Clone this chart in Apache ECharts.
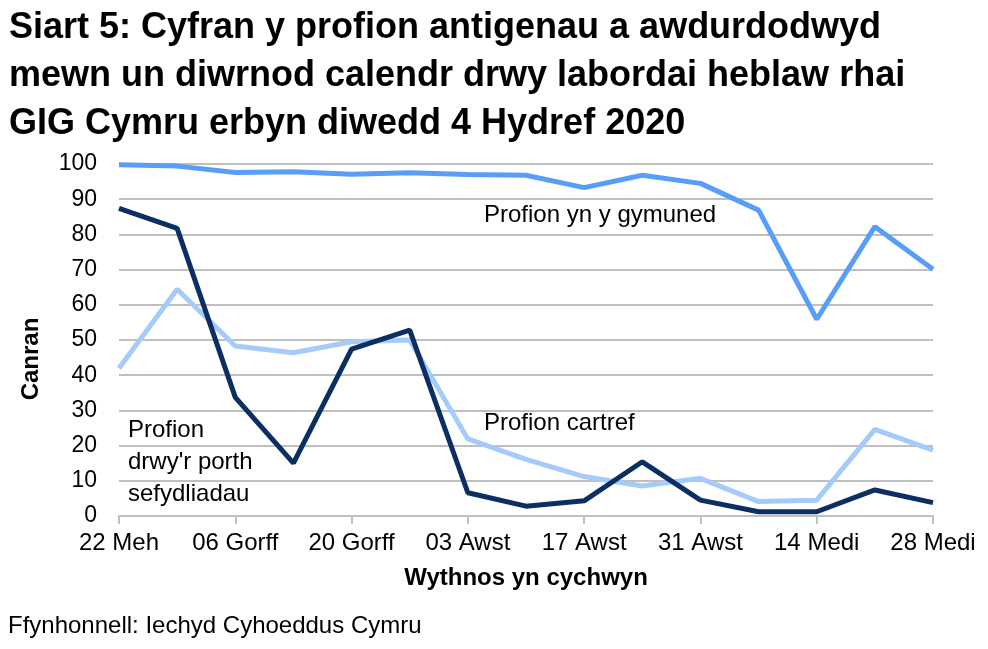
<!DOCTYPE html>
<html><head><meta charset="utf-8">
<script src="https://cdn.jsdelivr.net/npm/echarts@6/dist/echarts.min.js"></script>
<style>html,body{margin:0;padding:0;background:#fff}#c{width:988px;height:649px}</style>
</head><body><div id="c"></div>
<script>
const weeks = ['22 Meh','29 Meh','06 Gorff','13 Gorff','20 Gorff','27 Gorff','03 Awst','10 Awst','17 Awst','24 Awst','31 Awst','07 Medi','14 Medi','21 Medi','28 Medi'];
const gymuned = [99.8, 99.4, 97.6, 97.8, 97.1, 97.5, 97.0, 96.8, 93.3, 96.8, 94.5, 86.9, 55.9, 82.2, 70.1];
const sefydliadau = [87.4, 81.7, 33.7, 15.0, 47.4, 52.8, 6.6, 2.8, 4.3, 15.4, 4.5, 1.2, 1.2, 7.4, 3.8];
const cartref = [42.0, 64.4, 48.3, 46.4, 49.5, 50.0, 21.9, 16.1, 11.2, 8.5, 10.7, 4.1, 4.5, 24.6, 18.7];
const yTicks = [0,10,20,30,40,50,60,70,80,90,100];

const font = 'Liberation Sans, Arial, sans-serif';
const chart = echarts.init(document.getElementById('c'), null, {renderer:'canvas'});
const lbl = (text, x, y, extra) => Object.assign({type:'text', x:x, y:y, style:{text, font:'24px ' + font, fill:'#000', align:'left', verticalAlign:'middle'}}, extra || {});
chart.setOption({
  animation:false,
  grid:{left:119, right:55, top:164, bottom:133},
  xAxis:{type:'category', data:weeks, boundaryGap:false,
    name:'Wythnos yn cychwyn', nameLocation:'middle', nameGap:50,
    nameTextStyle:{fontFamily:font, fontSize:24, fontWeight:'bold', color:'#000'},
    axisLine:{lineStyle:{color:'#bfbfbf', width:2}},
    axisTick:{interval:1, length:8, lineStyle:{color:'#bfbfbf', width:2}},
    axisLabel:{interval:1, margin:15, fontFamily:font, fontSize:24, color:'#000'},
    splitLine:{show:false}},
  yAxis:{type:'value', min:yTicks[0], max:yTicks[yTicks.length-1], interval:10,
    axisLine:{show:false}, axisTick:{show:false},
    axisLabel:{margin:22, fontFamily:font, fontSize:23, color:'#000'},
    splitLine:{lineStyle:{color:'#bfbfbf', width:2}}},
  series:[
    {name:'Profion yn y gymuned', type:'line', data:gymuned, symbol:'none', lineStyle:{color:'#589ef8', width:5}},
    {name:'Profion cartref', type:'line', data:cartref, symbol:'none', lineStyle:{color:'#a5cbfb', width:5}},
    {name:'Profion drwy\'r porth sefydliadau', type:'line', data:sefydliadau, symbol:'none', lineStyle:{color:'#0b2e63', width:5}}
  ],
  graphic:[
    {type:'text', x:9, y:4.5, style:{text:'Siart 5: Cyfran y profion antigenau a awdurdodwyd\nmewn un diwrnod calendr drwy labordai heblaw rhai\nGIG Cymru erbyn diwedd 4 Hydref 2020',
      font:'bold 36px ' + font, fill:'#000', lineHeight:48, align:'left', verticalAlign:'top'}},
    lbl('Profion yn y gymuned', 484, 215),
    lbl('Profion cartref', 484, 423),
    lbl('Profion', 128, 430),
    lbl("drwy'r porth", 128, 462),
    lbl('sefydliadau', 128, 494),
    lbl('Ffynhonnell: Iechyd Cyhoeddus Cymru', 8, 626),
    {type:'text', x:31, y:359, rotation:Math.PI/2, style:{text:'Canran', font:'bold 24px ' + font, fill:'#000', align:'center', verticalAlign:'middle'}}
  ]
});
</script></body></html>
